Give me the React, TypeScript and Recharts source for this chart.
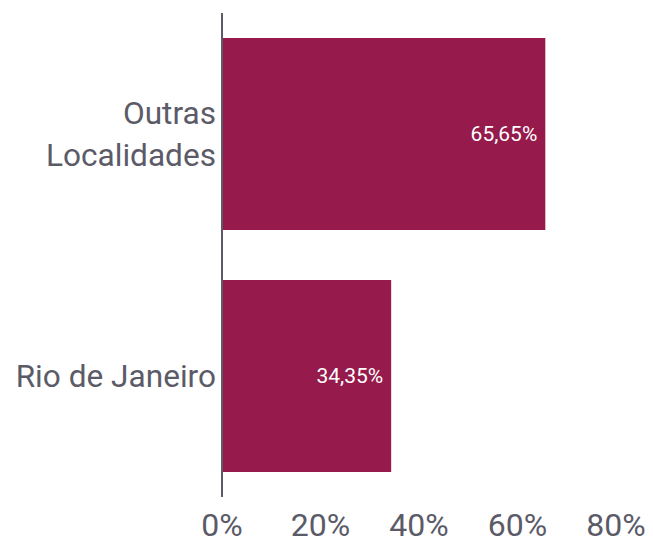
import React from "react";
import { BarChart, Bar, XAxis, YAxis, LabelList } from "recharts";

const categories = ["Outras Localidades", "Rio de Janeiro"];
const values = [65.65, 34.35];
const xTicks = [0, 20, 40, 60, 80];

const data = categories.map((c, i) => ({ name: c, value: values[i] }));

const TEXT = "#5b5b68";
const BAR = "#961a4b";
const FONT = "Roboto, sans-serif";

const fmt = (v: number) => v.toFixed(2).replace(".", ",") + "%";

const CatTick = (props: any) => {
  const { x, y, payload } = props;
  const label: string = payload.value;
  const lines = label.length > 15 ? label.split(" ") : [label];
  const lh = 42;
  const start = -((lines.length - 1) * lh) / 2;
  return (
    <text
      x={x + 2}
      y={y}
      textAnchor="end"
      fill={TEXT}
      fontSize={31.6}
      fontFamily={FONT}
    >
      {lines.map((l, i) => (
        <tspan key={i} x={x + 2} y={y + start + i * lh} dy="0.355em">
          {l}
        </tspan>
      ))}
    </text>
  );
};

export default function App() {
  return (
    <div style={{ position: "absolute", left: 0, top: 0 }}>
      <BarChart
        width={653}
        height={543}
        data={data}
        layout="vertical"
        margin={{ top: 13, right: 37, bottom: 0, left: 0 }}
        barCategoryGap={25}
      >
        <XAxis
          type="number"
          domain={[0, 80]}
          ticks={xTicks}
          tickFormatter={(v: number) => `${v}%`}
          axisLine={false}
          tickLine={false}
          height={46}
          tick={{ fill: TEXT, fontSize: 32, fontFamily: FONT }}
          tickMargin={10}
          interval={0}
        />
        <YAxis
          type="category"
          dataKey="name"
          width={222}
          axisLine={{ stroke: TEXT, strokeWidth: 2 }}
          tickLine={false}
          tick={<CatTick />}
        />
        <Bar dataKey="value" fill={BAR} isAnimationActive={false}>
          <LabelList
            dataKey="value"
            position="insideRight"
            offset={8}
            formatter={(v: any) => fmt(Number(v))}
            fill="#ffffff"
            fontSize={21}
            fontFamily={FONT}
          />
        </Bar>
      </BarChart>
    </div>
  );
}
